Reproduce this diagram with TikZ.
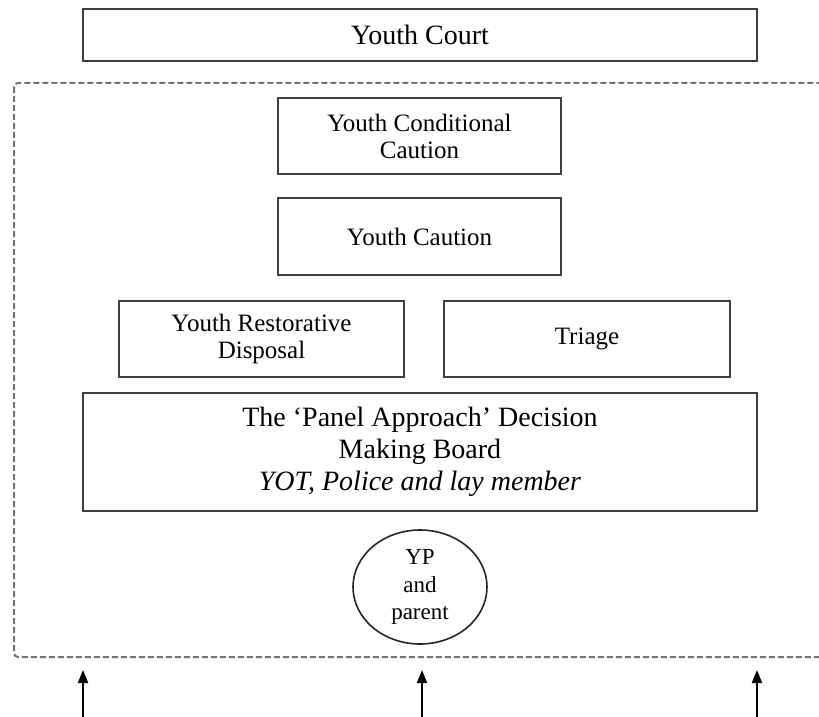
\documentclass[tikz,border=0pt]{standalone}
\usepackage{fontspec}
\setmainfont{Liberation Serif}
\usetikzlibrary{shapes.geometric,arrows.meta}
\tikzset{
stagebox/.style={draw=black!75,line width=1pt,fill=white,inner sep=0pt,align=center,
font=\fontsize{12.5}{13.5}\selectfont},
bigbox/.style={stagebox,font=\fontsize{14}{16}\selectfont},
ypnode/.style={ellipse,draw=black!85,line width=0.8pt,inner sep=0pt,align=center,
font=\fontsize{11.5}{13.8}\selectfont},
outerframe/.style={draw=black!55,line width=1pt,dash pattern=on 3pt off 1.5pt,rounded corners=2pt},
uparrow/.style={-{Triangle[length=6.5pt,width=5pt]},line width=1pt,black}
}

\begin{document}
\begin{tikzpicture}[x=0.5pt,y=-0.5pt]
\clip (0,0) rectangle (819,717);
\useasboundingbox (0,0) rectangle (819,717);
\draw[outerframe] (14,83) rectangle (830,657);
\node[bigbox,minimum width=337pt,minimum height=26pt] (court) at (420,35) {Youth Court};
\node[stagebox,minimum width=141.5pt,minimum height=38pt] (cond) at (419.5,136) {Youth Conditional\\Caution};
\node[stagebox,minimum width=141.5pt,minimum height=38.5pt] (caution) at (419.5,236.5) {Youth Caution};
\node[stagebox,minimum width=142.5pt,minimum height=38pt] (yrd) at (261.5,339) {Youth Restorative\\Disposal};
\node[stagebox,minimum width=143pt,minimum height=38pt] (triage) at (587,339) {Triage};
\node[bigbox,minimum width=337pt,minimum height=59pt] (panel) at (420,452)
  {The `Panel Approach' Decision\\Making Board\\\textit{YOT, Police and lay member}};
\node[ypnode,minimum width=67pt,minimum height=57pt] (yp) at (420,587) {YP\\and\\parent};
% arrows into the panel frame
\foreach \ax/\nm in {83/l,422/m,757/r}{
  \coordinate (foot\nm) at (\ax,720);
  \coordinate (tip\nm) at (\ax,670);
  \draw[uparrow] (foot\nm) -- (tip\nm);
}
\end{tikzpicture}
\end{document}
